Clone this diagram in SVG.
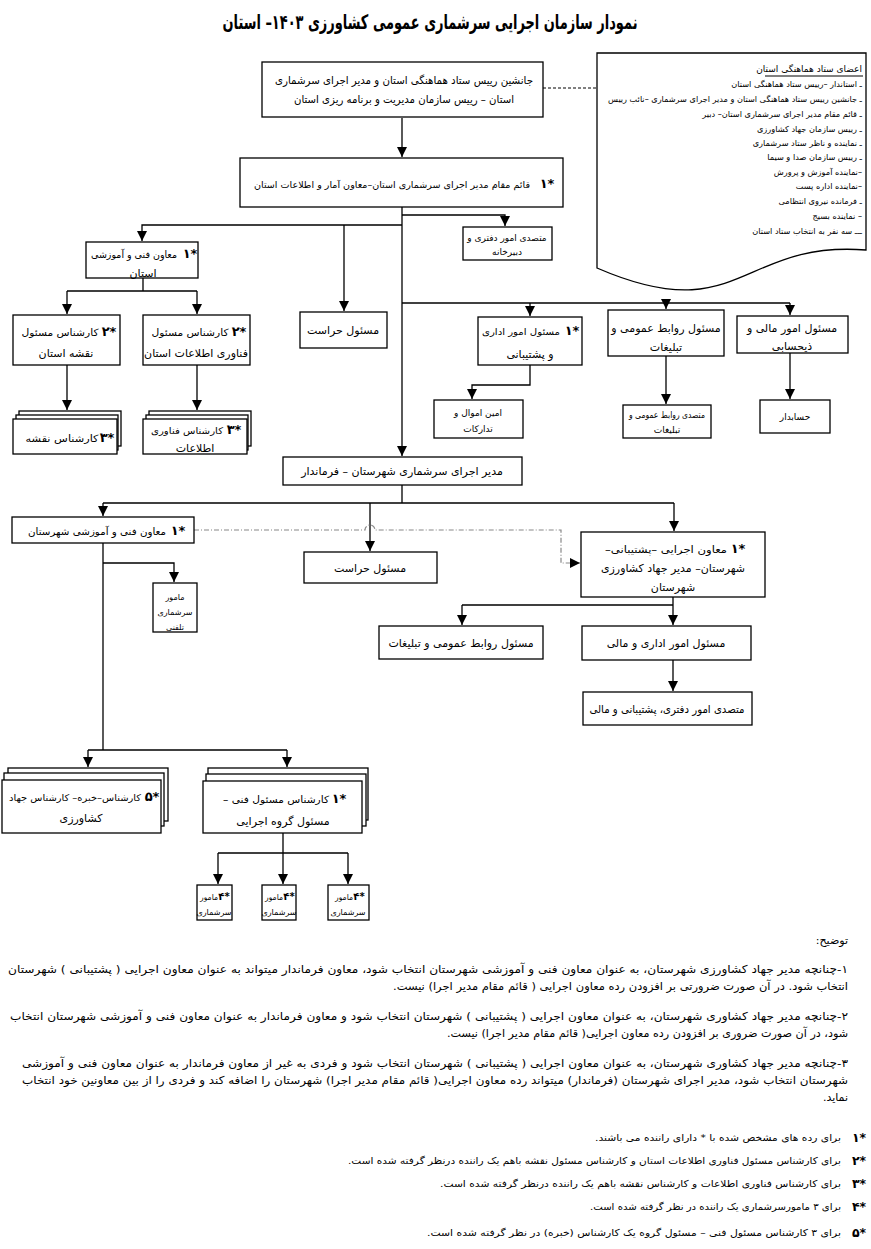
<svg xmlns="http://www.w3.org/2000/svg" width="871" height="1249" viewBox="0 0 871 1249">
<defs>
<marker id="ah" markerUnits="userSpaceOnUse" markerWidth="10" markerHeight="10" refX="10" refY="5" orient="auto">
<path d="M0,0 L10,5 L0,10 z" fill="#000"/>
</marker>
<style>
.box{fill:#fff;stroke:#000;stroke-width:1.3}
.c{fill:none;stroke:#000;stroke-width:1.3}
.ca{fill:none;stroke:#000;stroke-width:1.3;marker-end:url(#ah)}
.dash{fill:none;stroke:#000;stroke-width:1;stroke-dasharray:3 2}
.dd{fill:none;stroke:#888;stroke-width:1.2;stroke-dasharray:5 2 1 2;marker-end:url(#ah)}
text{font-family:"DejaVu Sans",sans-serif;direction:rtl;fill:#000;text-anchor:middle}
.t{font-size:11px}
.t9{font-size:9.2px}
.t10{font-size:10px}
.s{font-size:9px}
.xs{font-size:8px}
.st{font-size:13px;font-weight:bold}
.sts{font-size:10px;font-weight:bold}
.doc{font-size:8.2px;text-anchor:start}
.doct{font-size:9px;text-anchor:start}
.note{font-size:11px}
.nb{font-size:9.5px}
.ns{font-size:11px;text-anchor:start}
.mk{font-size:12.5px;font-weight:bold}
.title{font-size:20px;font-weight:bold}
</style>
</defs>
<rect width="871" height="1249" fill="#fff"/>
<text class="title" x="430" y="29" textLength="415" lengthAdjust="spacingAndGlyphs">نمودار سازمان اجرایی سرشماری عمومی کشاورزی ۱۴۰۳– استان</text>

<g id="connectors">
<path class="ca" d="M402,118 V157"/>
<path class="dash" d="M543,88 H597"/>
<path class="ca" d="M402,207 V456"/>
<path class="ca" d="M402,215 H505 V226"/>
<path class="ca" d="M402,225 H142 V241"/>
<path class="ca" d="M344,225 V311"/>
<path class="c" d="M143,278 V291 M67,291 H197"/>
<path class="ca" d="M67,291 V314"/>
<path class="ca" d="M197,291 V314"/>
<path class="ca" d="M67,365 V410"/>
<path class="ca" d="M197,365 V410"/>
<path class="c" d="M402,303 H790"/>
<path class="ca" d="M530,303 V316"/>
<path class="ca" d="M666,303 V309"/>
<path class="ca" d="M790,303 V315"/>
<path class="ca" d="M530,365 V385 H472 V399"/>
<path class="ca" d="M666,356 V404"/>
<path class="ca" d="M790,353 V399"/>
<path class="c" d="M402,485 V503 M103,503 H674"/>
<path class="ca" d="M103,503 V516"/>
<path class="ca" d="M370,503 V551"/>
<path class="ca" d="M674,503 V531"/>
<path class="dd" d="M194,530 H365 A5,5 0 0 1 375,530 H561 V563 H580"/>
<path class="c" d="M103,543 V750"/>
<path class="ca" d="M103,563 H174 V582"/>
<path class="c" d="M673,597 V605 M462,605 H673"/>
<path class="ca" d="M462,605 V625"/>
<path class="ca" d="M673,605 V625"/>
<path class="ca" d="M673,660 V691"/>
<path class="c" d="M88,750 H287"/>
<path class="ca" d="M88,750 V767"/>
<path class="ca" d="M287,750 V767"/>
<path class="c" d="M283,833 V853 M218,853 H348"/>
<path class="ca" d="M218,853 V884"/>
<path class="ca" d="M283,853 V884"/>
<path class="ca" d="M348,853 V884"/>
</g>

<g id="n_top">
<rect class="box" x="262" y="62" width="281" height="55"/>
<text class="t" x="404" y="84" textLength="258" lengthAdjust="spacingAndGlyphs">جانشین رییس ستاد هماهنگی استان و مدیر اجرای سرشماری</text>
<text class="t" x="404" y="103" textLength="220" lengthAdjust="spacingAndGlyphs">استان – رییس سازمان مدیریت و برنامه ریزی استان</text>
</g>

<g id="n_council">
<path class="box" d="M597,53 H866 V250 C740,240 740,330 597,268 Z"/>
<text class="doct" x="862" y="72">اعضای ستاد هماهنگی استان</text>
<line x1="765" y1="76" x2="863" y2="76" stroke="#000" stroke-width="1"/>
<text class="doc" x="862" y="87">ـ استاندار –رییس ستاد هماهنگی استان</text>
<text class="doc" x="862" y="102" textLength="254" lengthAdjust="spacingAndGlyphs">ـ جانشین رییس ستاد هماهنگی استان و مدیر اجرای سرشماری –نائب رییس</text>
<text class="doc" x="862" y="117">ـ قائم مقام مدیر اجرای سرشماری استان– دبیر</text>
<text class="doc" x="862" y="132">ـ رییس سازمان جهاد کشاورزی</text>
<text class="doc" x="862" y="146">ـ نماینده و ناظر ستاد سرشماری</text>
<text class="doc" x="862" y="160">ـ رییس سازمان صدا و سیما</text>
<text class="doc" x="862" y="175">–نماینده آموزش و پرورش</text>
<text class="doc" x="862" y="189">–نماینده اداره پست</text>
<text class="doc" x="862" y="204">ـ فرمانده نیروی انتظامی</text>
<text class="doc" x="862" y="219">– نماینده بسیج</text>
<text class="doc" x="862" y="234">ـــ سه نفر به انتخاب ستاد استان</text>
</g>

<g id="n_deputy">
<rect class="box" x="240" y="158" width="323" height="49"/>
<text class="st" x="547" y="188">*۱</text>
<text class="t9" x="392" y="188" textLength="276" lengthAdjust="spacingAndGlyphs">قائم مقام مدیر اجرای سرشماری استان–معاون آمار و اطلاعات استان</text>
</g>

<g id="n_office">
<rect class="box" x="463" y="227" width="89" height="33"/>
<text class="s" x="507" y="241">متصدی امور دفتری و</text>
<text class="s" x="507" y="255">دبیرخانه</text>
</g>

<g id="n_tech_prov">
<rect class="box" x="86" y="242" width="112" height="36"/>
<text class="st" x="190" y="258">*۱</text>
<text class="t10" x="134" y="258" textLength="86" lengthAdjust="spacingAndGlyphs">معاون فنی و آموزشی</text>
<text class="t" x="143" y="277">استان</text>
</g>

<g id="n_security_prov">
<rect class="box" x="300" y="312" width="87" height="36"/>
<text class="t" x="343" y="334">مسئول حراست</text>
</g>

<g id="n_map_expert">
<rect class="box" x="13" y="315" width="107" height="50"/>
<text class="st" x="109" y="336">*۲</text>
<text class="t10" x="60" y="336" textLength="77" lengthAdjust="spacingAndGlyphs">کارشناس مسئول</text>
<text class="t" x="66" y="357">نقشه استان</text>
</g>

<g id="n_it_expert">
<rect class="box" x="143" y="315" width="107" height="50"/>
<text class="st" x="239" y="336">*۲</text>
<text class="t10" x="190" y="336" textLength="77" lengthAdjust="spacingAndGlyphs">کارشناس مسئول</text>
<text class="t" x="196" y="357">فناوری اطلاعات استان</text>
</g>

<g id="n_map_staff">
<rect class="box" x="19" y="411" width="102" height="35"/>
<rect class="box" x="16" y="415" width="102" height="35"/>
<rect class="box" x="13" y="419" width="104" height="35"/>
<text class="st" x="107" y="442">*۳</text>
<text class="t10" x="62" y="442" textLength="73" lengthAdjust="spacingAndGlyphs">کارشناس نقشه</text>
</g>

<g id="n_it_staff">
<rect class="box" x="149" y="411" width="102" height="35"/>
<rect class="box" x="146" y="415" width="102" height="35"/>
<rect class="box" x="143" y="419" width="104" height="35"/>
<text class="st" x="234" y="434">*۳</text>
<text class="t9" x="187" y="434" textLength="72" lengthAdjust="spacingAndGlyphs">کارشناس فناوری</text>
<text class="t" x="195" y="452">اطلاعات</text>
</g>

<g id="n_admin_prov">
<rect class="box" x="478" y="317" width="104" height="48"/>
<text class="st" x="572" y="335">*۱</text>
<text class="t9" x="521" y="335" textLength="78" lengthAdjust="spacingAndGlyphs">مسئول امور اداری</text>
<text class="t" x="530" y="358">و پشتیبانی</text>
</g>

<g id="n_pr_prov">
<rect class="box" x="608" y="310" width="116" height="46"/>
<text class="t" x="666" y="332">مسئول روابط عمومی و</text>
<text class="t" x="666" y="351">تبلیغات</text>
</g>

<g id="n_fin_prov">
<rect class="box" x="737" y="316" width="111" height="37"/>
<text class="t" x="792" y="332">مسئول امور مالی و</text>
<text class="t" x="792" y="350">ذیحسابی</text>
</g>

<g id="n_assets">
<rect class="box" x="434" y="400" width="89" height="38"/>
<text class="s" x="478" y="416">امین اموال و</text>
<text class="s" x="478" y="432">تدارکات</text>
</g>

<g id="n_pr_staff">
<rect class="box" x="623" y="405" width="88" height="33"/>
<text class="s" x="667" y="418" textLength="76" lengthAdjust="spacingAndGlyphs">متصدی روابط عمومی و</text>
<text class="s" x="667" y="433">تبلیغات</text>
</g>

<g id="n_accountant">
<rect class="box" x="760" y="400" width="70" height="33"/>
<text class="s" x="795" y="420">حسابدار</text>
</g>

<g id="n_county">
<rect class="box" x="283" y="457" width="239" height="28"/>
<text class="t" x="402" y="475">مدیر اجرای سرشماری شهرستان – فرماندار</text>
</g>

<g id="n_tech_county">
<rect class="box" x="12" y="517" width="182" height="26"/>
<text class="st" x="178" y="535">*۱</text>
<text class="t10" x="97" y="535" textLength="138" lengthAdjust="spacingAndGlyphs">معاون فنی و آموزشی شهرستان</text>
</g>

<g id="n_security_county">
<rect class="box" x="304" y="552" width="133" height="31"/>
<text class="t" x="370" y="572">مسئول حراست</text>
</g>

<g id="n_exec_county">
<rect class="box" x="581" y="532" width="184" height="65"/>
<text class="st" x="738" y="553">*۱</text>
<text class="t10" x="666" y="553" textLength="122" lengthAdjust="spacingAndGlyphs">معاون اجرایی  –پشتیبانی–</text>
<text class="t" x="673" y="572">شهرستان– مدیر جهاد کشاورزی</text>
<text class="t" x="673" y="591">شهرستان</text>
</g>

<g id="n_phone">
<rect class="box" x="153" y="583" width="44" height="49"/>
<text class="xs" x="175" y="600">مامور</text>
<text class="xs" x="175" y="615">سرشماری</text>
<text class="xs" x="175" y="630">تلفنی</text>
</g>

<g id="n_pr_county">
<rect class="box" x="379" y="626" width="164" height="33"/>
<text class="t" x="461" y="647">مسئول روابط عمومی و تبلیغات</text>
</g>

<g id="n_admin_county">
<rect class="box" x="582" y="626" width="169" height="34"/>
<text class="t" x="666" y="647">مسئول امور اداری و مالی</text>
</g>

<g id="n_clerk_county">
<rect class="box" x="583" y="692" width="169" height="33"/>
<text class="t" x="667" y="713" textLength="155" lengthAdjust="spacingAndGlyphs">متصدی امور دفتری، پشتیبانی و مالی</text>
</g>

<g id="n_experts">
<rect class="box" x="8" y="768" width="160" height="53"/>
<rect class="box" x="4" y="773" width="160" height="53"/>
<rect class="box" x="2" y="780" width="159" height="53"/>
<text class="st" x="152" y="801">*۵</text>
<text class="t9" x="75" y="801" textLength="132" lengthAdjust="spacingAndGlyphs">کارشناس–خبره– کارشناس جهاد</text>
<text class="t" x="81" y="822">کشاورزی</text>
</g>

<g id="n_tech_lead">
<rect class="box" x="208" y="768" width="160" height="52"/>
<rect class="box" x="206" y="774" width="160" height="52"/>
<rect class="box" x="203" y="781" width="159" height="52"/>
<text class="st" x="339" y="803">*۱</text>
<text class="t10" x="276" y="803" textLength="106" lengthAdjust="spacingAndGlyphs">کارشناس مسئول فنی –</text>
<text class="t" x="283" y="825">مسئول گروه اجرایی</text>
</g>

<g id="n_enum1">
<rect class="box" x="197" y="885" width="35" height="35"/>
<text class="sts" x="224" y="900">*۴</text>
<text class="xs" x="209" y="900" textLength="18" lengthAdjust="spacingAndGlyphs">مامور</text>
<text class="xs" x="214" y="915">سرشماری</text>
</g>
<g id="n_enum2">
<rect class="box" x="262" y="885" width="34" height="35"/>
<text class="sts" x="289" y="900">*۴</text>
<text class="xs" x="274" y="900" textLength="18" lengthAdjust="spacingAndGlyphs">مامور</text>
<text class="xs" x="279" y="915">سرشماری</text>
</g>
<g id="n_enum3">
<rect class="box" x="328" y="885" width="41" height="35"/>
<text class="sts" x="359" y="900">*۴</text>
<text class="xs" x="344" y="900" textLength="18" lengthAdjust="spacingAndGlyphs">مامور</text>
<text class="xs" x="348" y="915">سرشماری</text>
</g>

<g id="notes">
<text class="ns" x="848" y="944">توضیح:</text>
<text class="note" x="428" y="973" textLength="840" lengthAdjust="spacingAndGlyphs">۱-چنانچه مدیر جهاد کشاورزی شهرستان، به عنوان معاون فنی و آموزشی شهرستان انتخاب شود،  معاون فرماندار میتواند به عنوان معاون اجرایی ( پشتیبانی ) شهرستان</text>
<text class="note" x="620.5" y="990" textLength="455" lengthAdjust="spacingAndGlyphs">انتخاب شود. در آن صورت ضرورتی بر افزودن رده معاون اجرایی ( قائم مقام مدیر اجرا) نیست.</text>
<text class="note" x="429" y="1020" textLength="838" lengthAdjust="spacingAndGlyphs">۲-چنانچه مدیر جهاد کشاوری شهرستان، به عنوان معاون اجرایی ( پشتیبانی ) شهرستان انتخاب شود و معاون فرماندار به عنوان معاون فنی و آموزشی شهرستان انتخاب</text>
<text class="note" x="647.5" y="1037" textLength="401" lengthAdjust="spacingAndGlyphs">شود، در آن صورت ضروری بر افزودن رده معاون اجرایی( قائم مقام مدیر اجرا) نیست.</text>
<text class="note" x="435" y="1067" textLength="826" lengthAdjust="spacingAndGlyphs">۳-چنانچه مدیر جهاد کشاوری شهرستان، به عنوان معاون اجرایی ( پشتیبانی ) شهرستان انتخاب شود و فردی به غیر از معاون فرماندار به عنوان معاون فنی  و آموزشی</text>
<text class="note" x="435" y="1084" textLength="826" lengthAdjust="spacingAndGlyphs">شهرستان انتخاب شود، مدیر اجرای شهرستان (فرماندار) میتواند رده معاون اجرایی( قائم مقام مدیر اجرا) شهرستان را اضافه کند و فردی را از بین معاونین خود انتخاب</text>
<text class="ns" x="848" y="1101">نماید.</text>

<text class="mk" x="859" y="1142">*۱</text>
<text class="nb" x="718" y="1141" textLength="246" lengthAdjust="spacingAndGlyphs">برای رده های مشخص شده با * دارای راننده می باشند.</text>
<text class="mk" x="859" y="1165">*۲</text>
<text class="nb" x="594.5" y="1164" textLength="493" lengthAdjust="spacingAndGlyphs">برای کارشناس مسئول فناوری اطلاعات استان و کارشناس مسئول نقشه باهم یک راننده درنظر گرفته شده است.</text>
<text class="mk" x="859" y="1188">*۳</text>
<text class="nb" x="640.5" y="1187" textLength="401" lengthAdjust="spacingAndGlyphs">برای کارشناس فناوری اطلاعات و کارشناس نقشه باهم یک راننده درنظر گرفته شده است.</text>
<text class="mk" x="859" y="1211">*۴</text>
<text class="nb" x="715.5" y="1210" textLength="251" lengthAdjust="spacingAndGlyphs">برای ۳ مامورسرشماری  یک راننده در نظر گرفته شده است.</text>
<text class="mk" x="859" y="1237">*۵</text>
<text class="nb" x="634" y="1236" textLength="414" lengthAdjust="spacingAndGlyphs">برای ۳ کارشناس مسئول فنی – مسئول گروه  یک کارشناس (خبره) در نظر گرفته شده است.</text>
</g>
</svg>
